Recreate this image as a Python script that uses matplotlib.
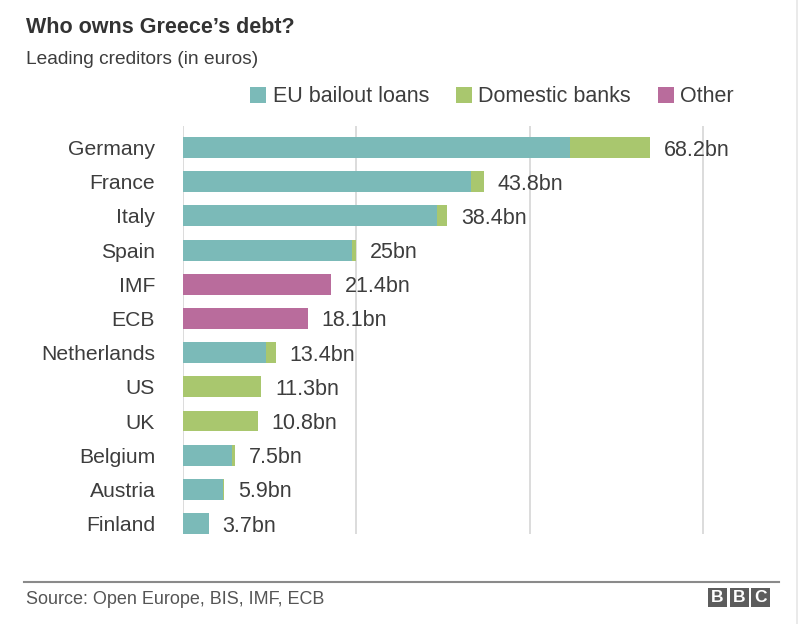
import matplotlib
matplotlib.use("Agg")
import matplotlib.pyplot as plt
from matplotlib.patches import Rectangle, Patch
from matplotlib.lines import Line2D
import numpy as np

plt.rcParams['font.family'] = ['Liberation Sans', 'DejaVu Sans']

countries = ["Germany", "France", "Italy", "Spain", "IMF", "ECB", "Netherlands",
             "US", "UK", "Belgium", "Austria", "Finland"]
eu_bailout = [55.8, 41.5, 36.6, 24.4, 0, 0, 12.0, 0, 0, 7.1, 5.7, 3.7]
domestic_banks = [11.6, 1.9, 1.5, 0.6, 0, 0, 1.4, 11.3, 10.8, 0.4, 0.2, 0]
other = [0, 0, 0, 0, 21.3, 18.0, 0, 0, 0, 0, 0, 0]
value_labels = ["68.2bn", "43.8bn", "38.4bn", "25bn", "21.4bn", "18.1bn", "13.4bn",
                "11.3bn", "10.8bn", "7.5bn", "5.9bn", "3.7bn"]
grid_ticks = [0, 25, 50, 75]
series_names = ["EU bailout loans", "Domestic banks", "Other"]

C_EU = "#7bbab8"
C_DOM = "#a9c76e"
C_OTH = "#b96c9c"
TXT = "#3d3d3d"

W, H = 800, 624
fig = plt.figure(figsize=(W / 100, H / 100), dpi=100)
fig.patch.set_facecolor("white")

x0, x1 = 183, 760
y_top, y_bot = 126, 534
ax = fig.add_axes([x0 / W, 1 - y_bot / H, (x1 - x0) / W, (y_bot - y_top) / H])

px_per_unit = (703 - 183) / 75.0
ax.set_xlim(0, (x1 - x0) / px_per_unit)
ax.set_ylim(11.305, -0.63)

y = np.arange(len(countries))
eu = np.array(eu_bailout)
dom = np.array(domestic_banks)
oth = np.array(other)
h = 0.61
ax.barh(y, eu, height=h, color=C_EU, zorder=3)
ax.barh(y, dom, left=eu, height=h, color=C_DOM, zorder=3)
ax.barh(y, oth, left=eu + dom, height=h, color=C_OTH, zorder=3)

totals = eu + dom + oth
for yi, t, lab in zip(y, totals, value_labels):
    ax.annotate(lab, xy=(t, yi), xytext=(10, 0), textcoords="offset points",
                ha="left", va="center_baseline", fontsize=15.5, color=TXT)

ax.set_xticks(grid_ticks)
ax.xaxis.grid(True, color="#dcdcdc", lw=1.4, zorder=0)
ax.set_axisbelow(True)
ax.tick_params(axis="x", length=0, labelbottom=False)
ax.set_yticks(y)
ax.set_yticklabels(countries, fontsize=15.2, color=TXT)
ax.tick_params(axis="y", length=0, pad=20)
for s in ax.spines.values():
    s.set_visible(False)

# Titles
fig.text(26 / W, 1 - 33 / H, "Who owns Greece\u2019s debt?", fontsize=15.5,
         fontweight="bold", color="#333333", ha="left", va="baseline")
fig.text(26 / W, 1 - 64 / H, "Leading creditors (in euros)", fontsize=13.8,
         color=TXT, ha="left", va="baseline")

# Legend
handles = [Patch(facecolor=c, edgecolor="none") for c in (C_EU, C_DOM, C_OTH)]
leg = fig.legend(handles, series_names, loc="center right",
                 bbox_to_anchor=(734 / W, 1 - 97 / H), ncol=3, frameon=False,
                 fontsize=15.5, handlelength=0.74, handleheight=0.74,
                 handletextpad=0.3, columnspacing=1.25, borderpad=0,
                 borderaxespad=0)
for t in leg.get_texts():
    t.set_color(TXT)

# Footer line
fig.add_artist(Line2D([24 / W, 779 / W], [1 - 582 / H, 1 - 582 / H],
                      color="#8a8a8a", lw=1.5, transform=fig.transFigure))
fig.text(26 / W, 1 - 604 / H, "Source: Open Europe, BIS, IMF, ECB", fontsize=13,
         color="#555555", ha="left", va="baseline")

# BBC logo
for i, letter in enumerate("BBC"):
    bx = 708 + i * 21.6
    fig.add_artist(Rectangle((bx / W, 1 - 607 / H), 19 / W, 19 / H,
                             facecolor="#5c5c5c", edgecolor="none",
                             transform=fig.transFigure))
    fig.text((bx + 9.5) / W, 1 - 597.5 / H, letter, fontsize=12.5,
             fontweight="bold", color="white", ha="center", va="center")

# faint right border
fig.add_artist(Line2D([797 / W, 797 / W], [0, 1], color="#e6e6e6", lw=1.2,
                      transform=fig.transFigure))

fig.savefig("out.png", dpi=100, facecolor="white")
